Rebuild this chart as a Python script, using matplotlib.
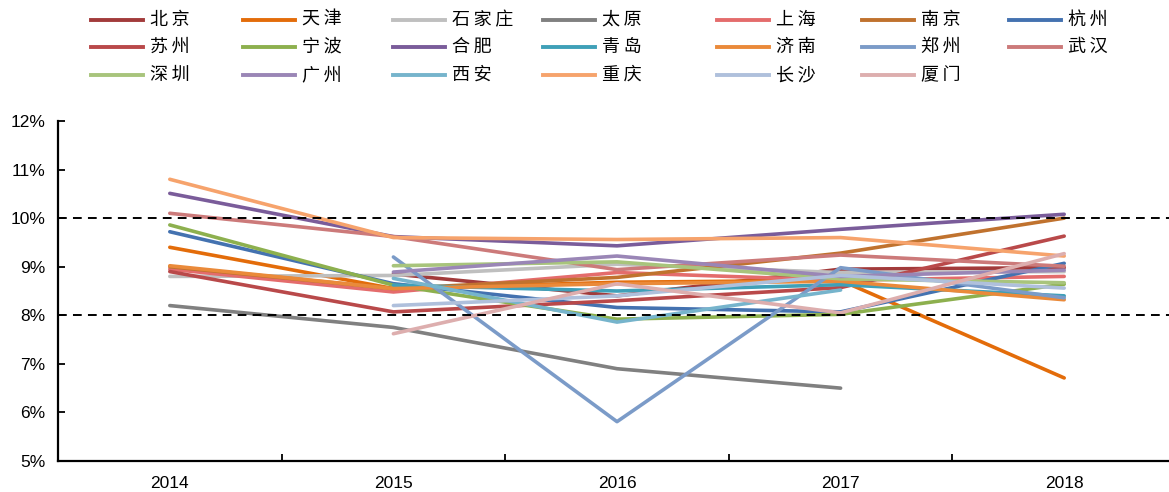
import matplotlib
matplotlib.use("Agg")
import matplotlib.pyplot as plt
from matplotlib.lines import Line2D
import numpy as np

plt.rcParams['font.family'] = ['Noto Sans CJK SC', 'DejaVu Sans']

years = ["2014", "2015", "2016", "2017", "2018"]
nan = np.nan

cities = ["北京", "天津", "石家庄", "太原", "上海", "南京", "杭州",
          "苏州", "宁波", "合肥", "青岛", "济南", "郑州", "武汉",
          "深圳", "广州", "西安", "重庆", "长沙", "厦门"]

colors = ["#A23B3B", "#E36C0A", "#BFBFBF", "#808080", "#E46C6C", "#C0722E", "#4472B0",
          "#B9494A", "#8DB04E", "#7A5C9A", "#3FA0B8", "#EA8A3A", "#7B9BC8", "#CC7A7A",
          "#A8C47C", "#9A86B6", "#76B4CC", "#F6A36C", "#AFC0DC", "#DDAEAE"]

# 增速 (%)
beijing      = [nan,   8.85, 8.40, 8.95, 8.98]
tianjin      = [9.40,  8.55, 8.68, 8.72, 6.71]
shijiazhuang = [8.80,  8.82, 9.05, 8.88, 8.90]
taiyuan      = [8.20,  7.75, 6.90, 6.50, nan]
shanghai     = [8.95,  8.48, 8.88, 8.72, 8.80]
nanjing      = [9.00,  8.55, 8.78, 9.28, 10.00]
hangzhou     = [9.72,  8.65, 8.16, 8.07, 9.07]
suzhou       = [8.90,  8.07, 8.30, 8.57, 9.63]
ningbo       = [9.86,  8.62, 7.92, 8.02, 8.64]
hefei        = [10.51, 9.62, 9.43, 9.77, 10.08]
qingdao      = [nan,   8.62, 8.50, 8.63, 8.40]
jinan        = [9.02,  8.55, 8.65, 8.70, 8.32]
zhengzhou    = [nan,   9.20, 5.81, 8.98, 8.36]
wuhan        = [10.10, 9.62, 8.94, 9.24, 9.01]
shenzhen     = [nan,   9.02, 9.10, 8.75, 8.67]
guangzhou    = [nan,   8.89, 9.22, 8.80, 8.93]
xian         = [nan,   8.76, 7.86, 8.52, nan]
chongqing    = [10.80, 9.60, 9.56, 9.60, 9.22]
changsha     = [nan,   8.20, 8.40, 8.82, 8.56]
xiamen       = [nan,   7.62, 8.65, 8.05, 9.27]

series = [beijing, tianjin, shijiazhuang, taiyuan, shanghai, nanjing, hangzhou,
          suzhou, ningbo, hefei, qingdao, jinan, zhengzhou, wuhan,
          shenzhen, guangzhou, xian, chongqing, changsha, xiamen]

W, H = 1169, 492
fig = plt.figure(figsize=(W / 100, H / 100), dpi=100)
ax = fig.add_axes([58 / W, (H - 461) / H, (1176 - 58) / W, (461 - 121) / H])

x = np.arange(len(years))
for name, c, vals in zip(cities, colors, series):
    ax.plot(x, vals, color=c, lw=2.6, solid_capstyle="round")

for ref in (8, 10):
    ax.axhline(ref, color="black", lw=1.4, ls=(0, (4.5, 3.2)), zorder=5)

ax.set_xlim(-0.5, len(years) - 0.5)
ax.set_ylim(5, 12)
ax.set_yticks(range(5, 13))
ax.set_yticklabels([f"{v}%" for v in range(5, 13)], family="Liberation Sans", fontsize=12.5)
ax.set_xticks(x)
ax.set_xticklabels(years, family="Liberation Sans", fontsize=12.5)
ax.set_xticks(np.arange(0.5, len(years) - 0.5), minor=True)
ax.tick_params(axis="x", which="major", length=0, pad=11)
ax.tick_params(axis="x", which="minor", direction="in", length=5, width=1.3)
ax.tick_params(axis="y", direction="in", length=5, width=1.3, pad=9)

for s in ("top", "right"):
    ax.spines[s].set_visible(False)
for s in ("left", "bottom"):
    ax.spines[s].set_linewidth(1.6)

# legend grid, 7 per row
col_x = [91, 243, 393, 543, 717, 862, 1009]
row_y = [20, 47, 75]
for i, (name, c) in enumerate(zip(cities, colors)):
    r, k = divmod(i, 7)
    x0, y0 = col_x[k], row_y[r]
    fig.add_artist(Line2D([x0 / W, (x0 + 52) / W], [1 - y0 / H, 1 - y0 / H],
                          color=c, lw=2.8, transform=fig.transFigure))
    fig.text((x0 + 59) / W, 1 - y0 / H, "\u2009".join(name), fontsize=13,
             va="center", ha="left", color="black")

fig.savefig("out.png", dpi=100)
